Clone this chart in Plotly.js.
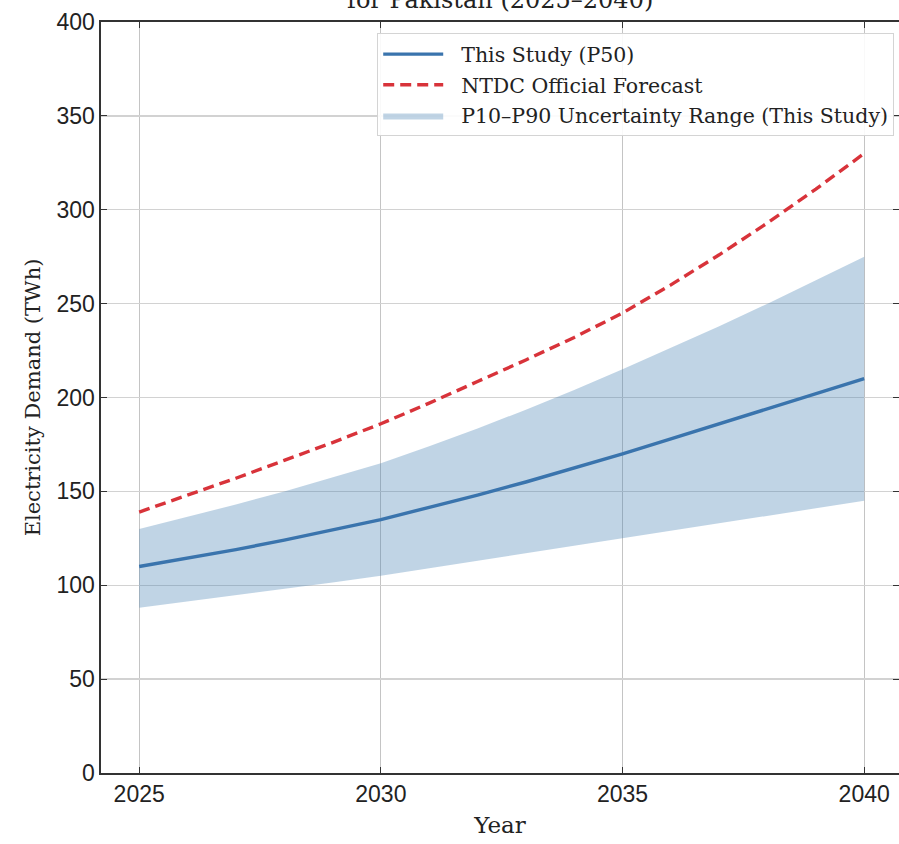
<!DOCTYPE html>
<html>
<head>
<meta charset="utf-8">
<script src="https://cdn.plot.ly/plotly-3.0.1.min.js"></script>
<style>html,body{margin:0;padding:0;background:#fff;} #chart{width:899px;height:844px;}</style>
</head>
<body>
<div id="chart"></div>
<script>
const years = [2025,2026,2027,2028,2029,2030,2031,2032,2033,2034,2035,2036,2037,2038,2039,2040];
const p50 = [110,114.5,119,124,129.5,135,141.5,148,155,162.5,170,178,186,194,202,210];
const p90 = [130,136.5,143,150,157.5,165,174,183.5,193.5,204,215,226.5,238,250,262.5,275];
const p10 = [88,91.3,94.6,98,101.5,105,109,113,117,121,125,129,133,137,141,145];
const ntdc = [139,148,157,166.5,176,186,197,208.5,220,232,245,260,276,293,311,330];
const xTicks = [2025,2030,2035,2040];
const yTicks = [0,50,100,150,200,250,300,350,400];

const serif = "DejaVu Serif, serif";
const sans = "Liberation Sans, Arial, sans-serif";

const traces = [
  {x: years, y: p10, type: 'scatter', mode: 'lines', line: {width: 0, color: 'rgba(0,0,0,0)'},
   showlegend: false, hoverinfo: 'skip', legendgroup: 'c'},
  {x: years, y: p90, type: 'scatter', mode: 'lines', fill: 'tonexty',
   fillcolor: 'rgba(70,130,180,0.34)', line: {width: 0, color: 'rgba(70,130,180,0.34)'},
   name: '\u00a0\u00a0P10–P90 Uncertainty Range (This Study)', legendrank: 3, legendgroup: 'c'},
  {x: years, y: p50, type: 'scatter', mode: 'lines', line: {color: '#3a74ad', width: 3.4},
   name: '\u00a0\u00a0This Study (P50)', legendrank: 1, legendgroup: 'a'},
  {x: years, y: ntdc, type: 'scatter', mode: 'lines', line: {color: '#d8333a', width: 3.4, dash: '11px,6px'},
   name: '\u00a0\u00a0NTDC Official Forecast', legendrank: 2, legendgroup: 'b'}
];

const layout = {
  width: 899, height: 844,
  margin: {l: 101, r: 0, t: 22, b: 71},
  paper_bgcolor: '#ffffff', plot_bgcolor: '#ffffff',
  showlegend: true,
  legend: {x: 0.994, xanchor: 'right', y: 0.985, yanchor: 'top',
           bgcolor: 'rgba(255,255,255,0.9)', bordercolor: '#d4d4d4', borderwidth: 1,
           font: {family: serif, size: 20.5, color: '#222'}, itemwidth: 60,
           traceorder: 'grouped', tracegroupgap: 1},
  xaxis: {range: [2024.21, 2040.72], tickvals: xTicks, ticktext: xTicks.map(String),
          showgrid: true, gridcolor: '#c4c4c4', gridwidth: 1,
          showline: true, linecolor: '#333', linewidth: 1.6, mirror: 'ticks',
          ticks: 'inside', ticklen: 6, tickwidth: 1.2, tickcolor: '#333',
          tickfont: {family: sans, size: 23, color: '#222'}, zeroline: false,
          title: {text: 'Year', font: {family: serif, size: 23, color: '#222'}, standoff: 10}},
  yaxis: {range: [0, 400], tickvals: yTicks, ticktext: yTicks.map(String),
          showgrid: true, gridcolor: '#d2d2d2', gridwidth: 1.4,
          showline: true, linecolor: '#333', linewidth: 1.6, mirror: 'ticks',
          ticks: 'inside', ticklen: 6, tickwidth: 1.2, tickcolor: '#333',
          tickfont: {family: sans, size: 23, color: '#222'}, zeroline: false,
          title: {text: 'Electricity Demand (TWh)', font: {family: serif, size: 21, color: '#222'}, standoff: 10}},
  annotations: [{text: 'for Pakistan (2025–2040)', xref: 'paper', yref: 'paper',
                 x: 0.5, y: 1.008, xanchor: 'center', yanchor: 'bottom', showarrow: false,
                 font: {family: serif, size: 24, color: '#222'}}]
};

Plotly.newPlot('chart', traces, layout, {displayModeBar: false, staticPlot: true});
</script>
</body>
</html>
